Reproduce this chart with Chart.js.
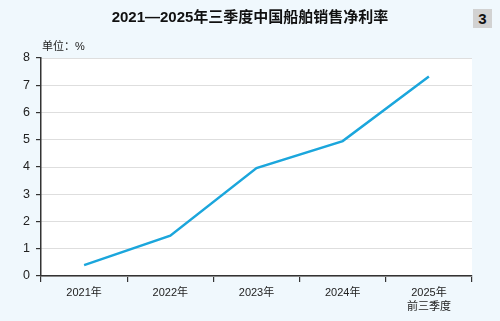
<!DOCTYPE html>
<html><head><meta charset="utf-8">
<script src="https://cdn.jsdelivr.net/npm/chart.js@4"></script>
<style>
html,body{margin:0;padding:0;background:#f0f8fd;}
#wrap{position:relative;width:500px;height:321px;overflow:hidden;font-family:"Liberation Sans","Noto Sans CJK SC",sans-serif;}
#title{position:absolute;left:0;top:7px;width:500px;text-align:center;font-weight:bold;font-size:15px;color:#111;line-height:20px;}
#badge{position:absolute;left:473px;top:9px;width:19px;height:19px;background:#d2d2d2;text-align:center;font-weight:bold;font-size:15px;line-height:19px;color:#111;}
#unit{position:absolute;left:42px;top:39px;font-size:11px;color:#222;line-height:14px;}
canvas{position:absolute;left:0;top:0;}
</style></head><body>
<div id="wrap">
<canvas id="c" width="500" height="321"></canvas>
<div id="title">2021—2025年三季度中国船舶销售净利率</div>
<div id="badge">3</div>
<div id="unit">单位：%</div>
</div>
<script>
const categories = [["2021年"],["2022年"],["2023年"],["2024年"],["2025年","前三季度"]];
const netMargin = [0.4, 1.48, 3.96, 4.95, 7.32];
const yTicks = [0,1,2,3,4,5,6,7,8];

const bgPlugin = {
  id:'bg',
  beforeDraw(chart){
    const {ctx, chartArea:a} = chart;
    ctx.save();
    ctx.fillStyle = '#ffffff';
    ctx.fillRect(a.left, a.top, a.right-a.left, a.bottom-a.top);
    ctx.restore();
  }
};
const font = {family:'"Liberation Sans","Noto Sans CJK SC",sans-serif'};
new Chart(document.getElementById('c'), {
  type:'line',
  data:{labels:categories, datasets:[{data:netMargin, borderColor:'#1ba6dc', borderWidth:2.5, pointRadius:0, tension:0, fill:false}]},
  options:{
    responsive:false, animation:false,
    layout:{padding:{top:58, right:28, left:0, bottom:0}},
    plugins:{legend:{display:false}, tooltip:{enabled:false}},
    scales:{
      x:{
        offset:true,
        grid:{offset:true, drawOnChartArea:false, color:'#333', tickLength:6, lineWidth:1.2},
        border:{color:'#333', width:1.5},
        ticks:{color:'#222', font:{...font, size:11, lineHeight:1.3}, padding:4, maxRotation:0},
        afterFit(s){ s.height = 45; }
      },
      y:{
        min:0, max:8,
        afterBuildTicks(s){ s.ticks = yTicks.map(v=>({value:v})); },
        grid:{color:'#333', drawOnChartArea:false, tickLength:5, lineWidth:1.2},
        border:{color:'#333', width:1.5},
        ticks:{color:'#222', font:{...font, size:12.5}, padding:6},
        afterFit(s){ s.width = 41; }
      },
      yg:{
        position:'left', min:0, max:8, display:true,
        afterBuildTicks(s){ s.ticks = yTicks.map(v=>({value:v})); },
        grid:{color:'#dedede', drawTicks:false, lineWidth:1},
        border:{display:false},
        ticks:{display:false},
        afterFit(s){ s.width = 0; }
      }
    }
  },
  plugins:[bgPlugin]
});
</script>
</body></html>
